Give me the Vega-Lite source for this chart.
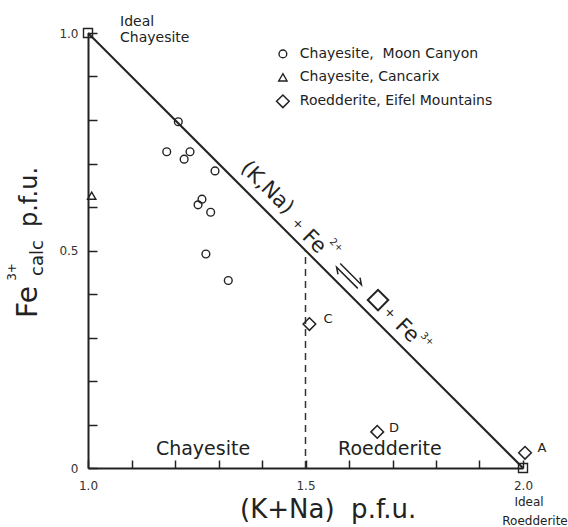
{
  "$schema": "https://vega.github.io/schema/vega-lite/v6.json",
  "width": 435,
  "height": 435,
  "autosize": {"type": "none"},
  "padding": {"left": 88, "top": 33, "right": 45, "bottom": 59},
  "config": {"view": {"stroke": null}, "font": "DejaVu Sans"},
  "datasets": {
    "diag": [{"x": 1, "y": 1}, {"x": 2, "y": 0}],
    "dash": [{"x": 1.5, "y": 0}, {"x": 1.5, "y": 0.5}],
    "arrow": [
      {"part": "upper", "seq": 1, "x": 1.5798, "y": 0.4699},
      {"part": "upper", "seq": 2, "x": 1.6285, "y": 0.4211},
      {"part": "upper", "seq": 3, "x": 1.6253, "y": 0.4375},
      {"part": "lower", "seq": 1, "x": 1.5747, "y": 0.4453},
      {"part": "lower", "seq": 2, "x": 1.5715, "y": 0.4616},
      {"part": "lower", "seq": 3, "x": 1.6202, "y": 0.4129}
    ],
    "points": [
      {"series": "Chayesite, Moon Canyon", "x": 1.2076, "y": 0.796},
      {"series": "Chayesite, Moon Canyon", "x": 1.181, "y": 0.727},
      {"series": "Chayesite, Moon Canyon", "x": 1.2345, "y": 0.727},
      {"series": "Chayesite, Moon Canyon", "x": 1.221, "y": 0.71},
      {"series": "Chayesite, Moon Canyon", "x": 1.292, "y": 0.683},
      {"series": "Chayesite, Moon Canyon", "x": 1.262, "y": 0.618},
      {"series": "Chayesite, Moon Canyon", "x": 1.253, "y": 0.605},
      {"series": "Chayesite, Moon Canyon", "x": 1.282, "y": 0.588},
      {"series": "Chayesite, Moon Canyon", "x": 1.271, "y": 0.492},
      {"series": "Chayesite, Moon Canyon", "x": 1.3225, "y": 0.431},
      {"series": "Chayesite, Cancarix", "x": 1.0085, "y": 0.626},
      {"series": "Roedderite, Eifel Mountains", "x": 1.509, "y": 0.331},
      {"series": "Roedderite, Eifel Mountains", "x": 1.665, "y": 0.083},
      {"series": "Roedderite, Eifel Mountains", "x": 2.0046, "y": 0.035},
      {"series": "Ideal", "x": 1, "y": 1},
      {"series": "Ideal", "x": 2, "y": 0},
      {"series": "Chayesite, Moon Canyon", "x": 1.448, "y": 0.952},
      {"series": "Chayesite, Cancarix", "x": 1.448, "y": 0.898},
      {"series": "Roedderite, Eifel Mountains", "x": 1.448, "y": 0.843}
    ],
    "legendText": [
      {"x": 1.487, "y": 0.952, "text": "Chayesite,\u00a0\u00a0Moon Canyon"},
      {"x": 1.487, "y": 0.898, "text": "Chayesite, Cancarix"},
      {"x": 1.487, "y": 0.843, "text": "Roedderite, Eifel Mountains"},
      {"x": 1.0736, "y": 1.0253, "text": "Ideal"},
      {"x": 1.0736, "y": 0.9885, "text": "Chayesite"}
    ],
    "vacancy": [{"x": 1.6667, "y": 0.386}],
    "diagText": [
      {"x": 1.4115, "y": 0.6437, "text": "(K,Na)", "role": "big"},
      {"x": 1.4828, "y": 0.561, "text": "+", "role": "plus"},
      {"x": 1.5195, "y": 0.5195, "text": "Fe", "role": "big"},
      {"x": 1.571, "y": 0.5126, "text": "2+", "role": "sup"},
      {"x": 1.694, "y": 0.356, "text": "+", "role": "plus"},
      {"x": 1.7333, "y": 0.315, "text": "Fe", "role": "big"},
      {"x": 1.78, "y": 0.2966, "text": "3+", "role": "sup"}
    ],
    "labels": [
      {"x": 1.2644, "y": 0.0437, "text": "Chayesite", "role": "region"},
      {"x": 1.694, "y": 0.0437, "text": "Roedderite", "role": "region"},
      {"x": 1.5517, "y": 0.3425, "text": "C", "role": "point"},
      {"x": 1.7034, "y": 0.092, "text": "D", "role": "point"},
      {"x": 2.0437, "y": 0.046, "text": "A", "role": "point"},
      {"x": 2.0138, "y": -0.078, "text": "Ideal", "role": "ideal"},
      {"x": 2.0276, "y": -0.1218, "text": "Roedderite", "role": "ideal"},
      {"x": 1.552, "y": -0.0966, "text": "(K+Na)\u00a0\u00a0p.f.u.", "role": "title"}
    ],
    "ytitle": [
      {"x": 0.8655, "y": 0.3816, "text": "Fe", "role": "fe"},
      {"x": 0.885, "y": 0.4828, "text": "calc", "role": "sub"},
      {"x": 0.8253, "y": 0.4506, "text": "3+", "role": "sup"},
      {"x": 0.8667, "y": 0.623, "text": "p.f.u.", "role": "pfu"}
    ]
  },
  "encoding": {
    "x": {
      "field": "x", "type": "quantitative",
      "scale": {"domain": [1, 2], "nice": false, "zero": false},
      "axis": {
        "values": [1, 1.1, 1.2, 1.3, 1.4, 1.5, 1.6, 1.7, 1.8, 1.9, 2],
        "labelExpr": "datum.value == 1 || datum.value == 1.5 || datum.value == 2 ? format(datum.value, '.1f') : ''",
        "title": null, "grid": false,
        "tickSize": -8, "tickWidth": 1.5, "tickColor": "#222",
        "domainColor": "#222", "domainWidth": 2,
        "labelFontSize": 12, "labelColor": "#333", "labelPadding": 20,
        "labelFlush": false, "labelOverlap": false
      }
    },
    "y": {
      "field": "y", "type": "quantitative",
      "scale": {"domain": [0, 1], "nice": false, "zero": false},
      "axis": {
        "values": [0, 0.1, 0.2, 0.3, 0.4, 0.5, 0.6, 0.7, 0.8, 0.9, 1],
        "labelExpr": "datum.value == 0 ? '0\u00a0\u00a0\u00a0\u00a0\u00a0' : (datum.value == 0.5 || datum.value == 1 ? format(datum.value, '.1f') : '')",
        "title": null, "grid": false,
        "tickSize": -9, "tickWidth": 1.5, "tickColor": "#222",
        "domainColor": "#222", "domainWidth": 2,
        "labelFontSize": 12, "labelColor": "#333", "labelPadding": 19,
        "labelFlush": false, "labelOverlap": false
      }
    }
  },
  "layer": [
    {"data": {"name": "diag"}, "mark": {"type": "line", "color": "#222", "strokeWidth": 2}, "encoding": {}},
    {"data": {"name": "dash"}, "mark": {"type": "line", "color": "#333", "strokeWidth": 1.5, "strokeDash": [7, 5]}, "encoding": {}},
    {"data": {"name": "arrow"}, "mark": {"type": "line", "color": "#222", "strokeWidth": 1.5, "strokeJoin": "miter"},
      "encoding": {"detail": {"field": "part", "type": "nominal"}, "order": {"field": "seq", "type": "quantitative"}}},
    {"data": {"name": "points"}, "transform": [{"filter": "datum.series == 'Chayesite, Moon Canyon'"}],
      "mark": {"type": "point", "shape": "circle", "size": 60, "filled": false, "color": "#222", "strokeWidth": 1.4, "opacity": 1}},
    {"data": {"name": "points"}, "transform": [{"filter": "datum.series == 'Chayesite, Cancarix'"}],
      "mark": {"type": "point", "shape": "triangle-up", "size": 70, "filled": false, "color": "#222", "strokeWidth": 1.4, "opacity": 1}},
    {"data": {"name": "points"}, "transform": [{"filter": "datum.series == 'Roedderite, Eifel Mountains'"}],
      "mark": {"type": "point", "shape": "diamond", "size": 160, "filled": false, "color": "#222", "strokeWidth": 1.5, "opacity": 1}},
    {"data": {"name": "points"}, "transform": [{"filter": "datum.series == 'Ideal'"}],
      "mark": {"type": "point", "shape": "square", "size": 81, "filled": false, "color": "#222", "strokeWidth": 1.4, "opacity": 1}},
    {"data": {"name": "vacancy"}, "mark": {"type": "point", "shape": "square", "angle": 45, "size": 210, "filled": false, "color": "#222", "strokeWidth": 2, "opacity": 1}},
    {"data": {"name": "legendText"}, "mark": {"type": "text", "align": "left", "baseline": "middle", "fontSize": 14, "color": "#222"}, "encoding": {"text": {"field": "text"}}},
    {"data": {"name": "diagText"}, "transform": [{"filter": "datum.role == 'big'"}],
      "mark": {"type": "text", "align": "center", "baseline": "middle", "angle": 45, "fontSize": 21, "color": "#222"}, "encoding": {"text": {"field": "text"}}},
    {"data": {"name": "diagText"}, "transform": [{"filter": "datum.role == 'plus'"}],
      "mark": {"type": "text", "align": "center", "baseline": "middle", "angle": 45, "fontSize": 13, "color": "#222"}, "encoding": {"text": {"field": "text"}}},
    {"data": {"name": "diagText"}, "transform": [{"filter": "datum.role == 'sup'"}],
      "mark": {"type": "text", "align": "center", "baseline": "middle", "angle": 45, "fontSize": 10, "color": "#222"}, "encoding": {"text": {"field": "text"}}},
    {"data": {"name": "labels"}, "transform": [{"filter": "datum.role == 'region'"}],
      "mark": {"type": "text", "align": "center", "baseline": "middle", "fontSize": 19, "color": "#222"}, "encoding": {"text": {"field": "text"}}},
    {"data": {"name": "labels"}, "transform": [{"filter": "datum.role == 'point'"}],
      "mark": {"type": "text", "align": "center", "baseline": "middle", "fontSize": 13, "color": "#222"}, "encoding": {"text": {"field": "text"}}},
    {"data": {"name": "labels"}, "transform": [{"filter": "datum.role == 'ideal'"}],
      "mark": {"type": "text", "align": "center", "baseline": "middle", "fontSize": 12, "color": "#222"}, "encoding": {"text": {"field": "text"}}},
    {"data": {"name": "labels"}, "transform": [{"filter": "datum.role == 'title'"}],
      "mark": {"type": "text", "align": "center", "baseline": "middle", "fontSize": 26, "color": "#222"}, "encoding": {"text": {"field": "text"}}},
    {"data": {"name": "ytitle"}, "transform": [{"filter": "datum.role == 'fe'"}],
      "mark": {"type": "text", "align": "center", "baseline": "middle", "angle": 270, "fontSize": 28, "color": "#222"}, "encoding": {"text": {"field": "text"}}},
    {"data": {"name": "ytitle"}, "transform": [{"filter": "datum.role == 'sub'"}],
      "mark": {"type": "text", "align": "center", "baseline": "middle", "angle": 270, "fontSize": 18, "color": "#222"}, "encoding": {"text": {"field": "text"}}},
    {"data": {"name": "ytitle"}, "transform": [{"filter": "datum.role == 'sup'"}],
      "mark": {"type": "text", "align": "center", "baseline": "middle", "angle": 270, "fontSize": 12, "color": "#222"}, "encoding": {"text": {"field": "text"}}},
    {"data": {"name": "ytitle"}, "transform": [{"filter": "datum.role == 'pfu'"}],
      "mark": {"type": "text", "align": "center", "baseline": "middle", "angle": 270, "fontSize": 24, "color": "#222"}, "encoding": {"text": {"field": "text"}}}
  ]
}
